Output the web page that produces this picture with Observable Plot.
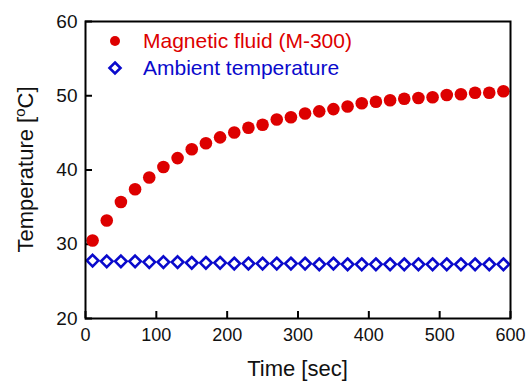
<!DOCTYPE html>
<html>
<head>
<meta charset="utf-8">
<script src="https://cdn.jsdelivr.net/npm/d3@7"></script>
<script src="https://cdn.jsdelivr.net/npm/@observablehq/plot@0.6"></script>
<style>
  html, body { margin: 0; padding: 0; background: #fff; }
  #chart { position: relative; width: 531px; height: 381px; }
</style>
</head>
<body>
<div id="chart"></div>
<script>
const times = [10,30,50,70,90,110,130,150,170,190,210,230,250,270,290,310,330,350,370,390,410,430,450,470,490,510,530,550,570,590];
const magneticFluid = [30.5,33.2,35.7,37.4,39.0,40.4,41.6,42.8,43.6,44.4,45.05,45.7,46.1,46.8,47.1,47.6,47.9,48.2,48.55,49.0,49.2,49.4,49.6,49.7,49.8,50.1,50.2,50.4,50.4,50.6];
const ambient = [27.8,27.7,27.7,27.7,27.6,27.6,27.6,27.5,27.5,27.5,27.4,27.4,27.4,27.4,27.4,27.4,27.3,27.4,27.3,27.3,27.3,27.3,27.3,27.3,27.3,27.3,27.3,27.3,27.3,27.3];
const xTicks = [0,100,200,300,400,500,600];
const yTicks = [20,30,40,50,60];
const seriesNames = ["Magnetic fluid (M-300)", "Ambient temperature"];
const xTitle = "Time [sec]";
const yTitle = ["Temperature [", "o", "C]"];

const RED = "#dd0000", BLUE = "#0a0acc";
const FONT = "'Liberation Sans', Arial, sans-serif";

const fluidData = times.map((t, i) => ({t, v: magneticFluid[i]}));
const ambData = times.map((t, i) => ({t, v: ambient[i]}));

const W = 531, H = 381, ML = 85, MR = 21, MT = 21, MB = 63;
const xDomain = [0, 600], yDomain = [20, 60];
const plotW = W - ML - MR, plotH = H - MT - MB;
const TICK = 7; // inward tick length in px
const tickDy = TICK * (yDomain[1] - yDomain[0]) / plotH;
const tickDx = TICK * (xDomain[1] - xDomain[0]) / plotW;

const plot = Plot.plot({
  width: W, height: H,
  marginLeft: ML, marginRight: MR, marginTop: MT, marginBottom: MB,
  style: {fontFamily: FONT, color: "#111", background: "#fff"},
  x: {domain: xDomain},
  y: {domain: yDomain},
  marks: [
    Plot.axisX({ticks: xTicks, tickSize: 0, tickPadding: 10, fontSize: 18, label: null}),
    Plot.axisY({ticks: yTicks, tickSize: 0, tickPadding: 8, fontSize: 19, label: null}),
    Plot.ruleX(xTicks, {x: d => d, y1: yDomain[0], y2: yDomain[0] + tickDy, stroke: "#000", strokeWidth: 2}),
    Plot.ruleY(yTicks, {y: d => d, x1: xDomain[0], x2: xDomain[0] + tickDx, stroke: "#000", strokeWidth: 2}),
    Plot.dot(ambData, {x: "t", y: "v", symbol: "diamond2", r: 5.2, stroke: BLUE, strokeWidth: 2.6, fill: "none"}),
    Plot.dot(fluidData, {x: "t", y: "v", r: 6.3, fill: RED, stroke: "none"}),
    Plot.frame({stroke: "#000", strokeWidth: 2})
  ]
});
document.getElementById("chart").appendChild(plot);

const svg = d3.select(plot);
const xs = plot.scale("x"), ys = plot.scale("y");
const cx = (xs.range[0] + xs.range[1]) / 2;
const cy = (ys.range[0] + ys.range[1]) / 2;

// Axis titles
svg.append("text")
  .attr("x", cx).attr("y", 376)
  .attr("text-anchor", "middle")
  .attr("font-family", FONT).attr("font-size", 22).attr("fill", "#111")
  .text(xTitle);

const yt = svg.append("text")
  .attr("transform", `translate(33,${cy}) rotate(-90)`)
  .attr("text-anchor", "middle")
  .attr("font-family", FONT).attr("font-size", 22).attr("fill", "#111");
yt.append("tspan").text(yTitle[0]);
yt.append("tspan").attr("baseline-shift", "super").attr("font-size", 15).text(yTitle[1]);
yt.append("tspan").text(yTitle[2]);

// Legend
const lg = svg.append("g").attr("text-anchor", "start");
lg.append("circle").attr("cx", 115).attr("cy", 41).attr("r", 5).attr("fill", RED);
lg.append("text").attr("x", 143).attr("y", 41).attr("dy", "0.35em").attr("text-anchor", "start")
  .attr("font-family", FONT).attr("font-size", 21).attr("fill", RED).text(seriesNames[0]);
const d = 5.5;
lg.append("path").attr("d", `M115,${68-d}L${115+d},68L115,${68+d}L${115-d},68Z`)
  .attr("fill", "none").attr("stroke", BLUE).attr("stroke-width", 2.6);
lg.append("text").attr("x", 143).attr("y", 68).attr("dy", "0.35em").attr("text-anchor", "start")
  .attr("font-family", FONT).attr("font-size", 21).attr("fill", BLUE).text(seriesNames[1]);
</script>
</body>
</html>
